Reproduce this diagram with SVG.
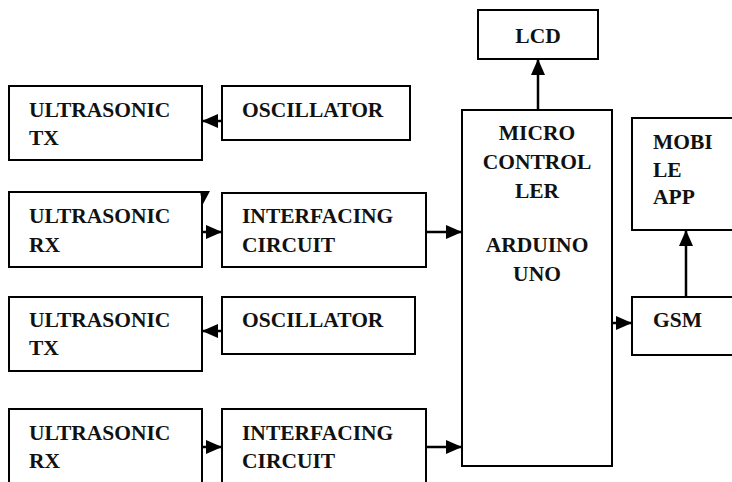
<svg xmlns="http://www.w3.org/2000/svg" width="732" height="482" viewBox="0 0 732 482">
  <style>
    .box { fill: #ffffff; stroke: #000000; stroke-width: 2; }
    .lbl { font-family: "Liberation Serif", "Times New Roman", serif; font-weight: bold; font-size: 21.5px; fill: #111111; }
    .mid { text-anchor: middle; }
    .wire { stroke: #000000; stroke-width: 2.5; fill: none; marker-end: url(#head); }
  </style>
  <defs>
    <marker id="head" markerUnits="userSpaceOnUse" markerWidth="16" markerHeight="14" refX="16" refY="7" orient="auto">
      <path d="M0,0 L16,7 L0,14 z" fill="#000000"/>
    </marker>
  </defs>
  <rect width="732" height="482" fill="#ffffff"/>

  <g id="connectors">
    <line class="wire" x1="222" y1="121" x2="202" y2="121"/>
    <line class="wire" x1="202" y1="232" x2="222" y2="232"/>
    <line class="wire" x1="426" y1="232" x2="462" y2="232"/>
    <line class="wire" x1="222" y1="331" x2="202" y2="331"/>
    <line class="wire" x1="202" y1="447" x2="222" y2="447"/>
    <line class="wire" x1="426" y1="447" x2="462" y2="447"/>
    <line class="wire" x1="538" y1="110" x2="538" y2="59"/>
    <line class="wire" x1="612" y1="323" x2="632" y2="323"/>
    <line class="wire" x1="686" y1="297" x2="686" y2="230"/>
  </g>

  <g id="ultrasonic-tx-1">
    <rect class="box" x="9" y="86" width="193" height="74"/>
    <text class="lbl" x="29" y="117">ULTRASONIC</text>
    <text class="lbl" x="29" y="145">TX</text>
  </g>
  <g id="oscillator-1">
    <rect class="box" x="222" y="86" width="188" height="54"/>
    <text class="lbl" x="242" y="117">OSCILLATOR</text>
  </g>

  <g id="ultrasonic-rx-1">
    <rect class="box" x="9" y="192" width="193" height="75"/>
    <text class="lbl" x="29" y="223">ULTRASONIC</text>
    <text class="lbl" x="29" y="252">RX</text>
    <path d="M200,191 L210,191 L202.5,205 z" fill="#000000"/>
  </g>
  <g id="interfacing-1">
    <rect class="box" x="222" y="193" width="204" height="74"/>
    <text class="lbl" x="242" y="223">INTERFACING</text>
    <text class="lbl" x="242" y="252">CIRCUIT</text>
  </g>

  <g id="ultrasonic-tx-2">
    <rect class="box" x="9" y="297" width="193" height="74"/>
    <text class="lbl" x="29" y="327">ULTRASONIC</text>
    <text class="lbl" x="29" y="355">TX</text>
  </g>
  <g id="oscillator-2">
    <rect class="box" x="222" y="297" width="193" height="57"/>
    <text class="lbl" x="242" y="327">OSCILLATOR</text>
  </g>

  <g id="ultrasonic-rx-2">
    <rect class="box" x="9" y="409" width="193" height="90"/>
    <text class="lbl" x="29" y="440">ULTRASONIC</text>
    <text class="lbl" x="29" y="468">RX</text>
  </g>
  <g id="interfacing-2">
    <rect class="box" x="222" y="409" width="204" height="90"/>
    <text class="lbl" x="242" y="440">INTERFACING</text>
    <text class="lbl" x="242" y="468">CIRCUIT</text>
  </g>

  <g id="microcontroller">
    <rect class="box" x="462" y="110" width="150" height="356"/>
    <text class="lbl mid" x="537" y="140">MICRO</text>
    <text class="lbl mid" x="537" y="169">CONTROL</text>
    <text class="lbl mid" x="537" y="198">LER</text>
    <text class="lbl mid" x="537" y="252">ARDUINO</text>
    <text class="lbl mid" x="537" y="281">UNO</text>
  </g>

  <g id="lcd">
    <rect class="box" x="478" y="10" width="120" height="49"/>
    <text class="lbl mid" x="538" y="43">LCD</text>
  </g>

  <g id="mobile-app">
    <rect class="box" x="632" y="118" width="120" height="112"/>
    <text class="lbl" x="653" y="149">MOBI</text>
    <text class="lbl" x="653" y="177">LE</text>
    <text class="lbl" x="653" y="204">APP</text>
  </g>

  <g id="gsm">
    <rect class="box" x="632" y="297" width="120" height="58"/>
    <text class="lbl" x="653" y="327">GSM</text>
  </g>
</svg>
